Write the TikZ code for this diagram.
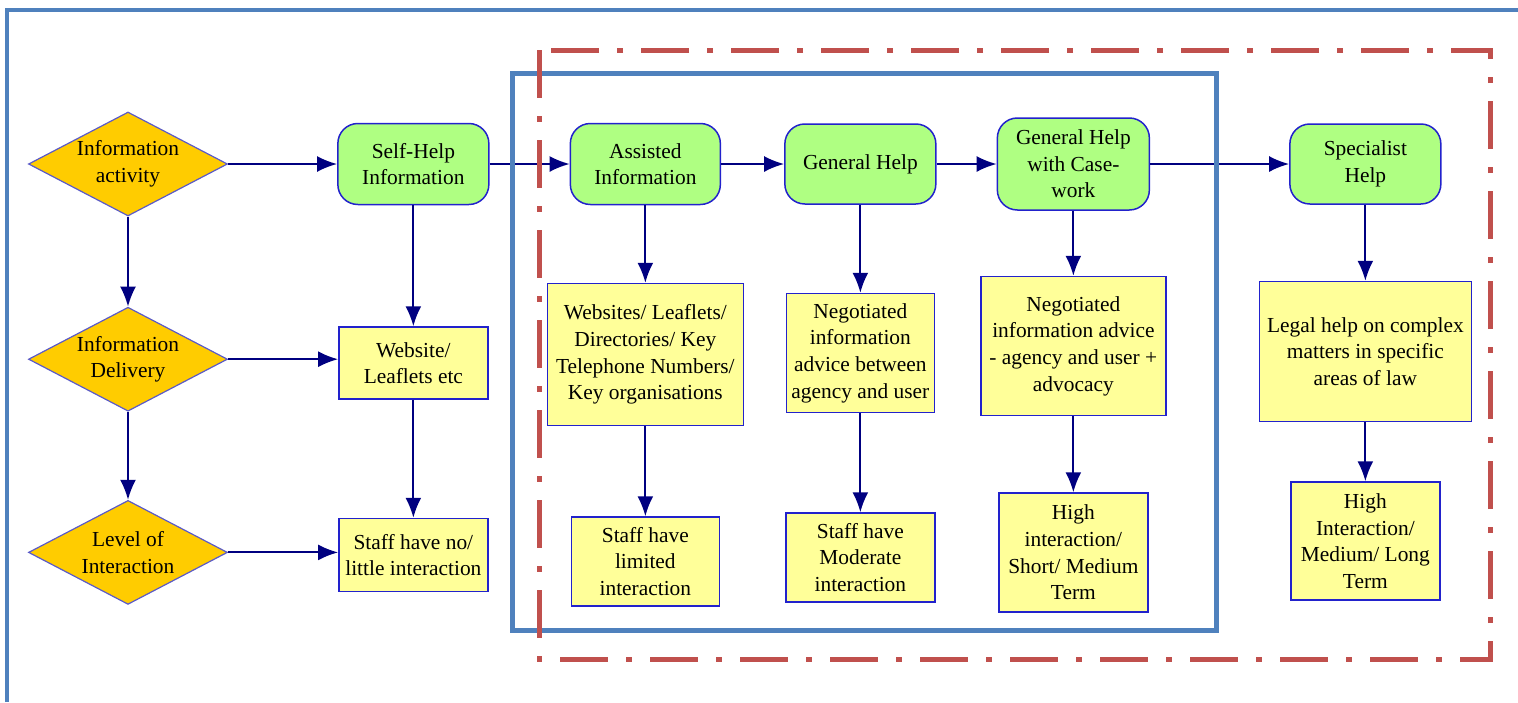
\documentclass[tikz,border=0pt]{standalone}
\usepackage{fontspec}
\setmainfont{Liberation Serif}
\usetikzlibrary{shapes.geometric,arrows.meta,positioning}

\definecolor{frameblue}{RGB}{79,129,189}
\definecolor{framered}{RGB}{192,80,77}
\definecolor{boxline}{RGB}{34,34,204}
\definecolor{diamline}{RGB}{90,90,200}
\definecolor{diamfill}{RGB}{255,204,0}
\definecolor{stagefill}{RGB}{175,255,130}
\definecolor{outfill}{RGB}{255,255,153}
\definecolor{arrownavy}{RGB}{0,0,128}

\begin{document}
\begin{tikzpicture}[font=\fontsize{10.7}{13.3}\selectfont]
    \tikzstyle{decision} = [draw=diamline, line width=0.6pt, diamond, aspect=2, fill=diamfill, align=center, inner sep=0pt, minimum width=99.5pt, minimum height=52pt]
    \tikzstyle{stage}    = [draw=boxline, line width=0.75pt, rectangle, rounded corners=10pt, fill=stagefill, align=center, inner sep=0pt]
    \tikzstyle{outcome}  = [draw=boxline, line width=0.75pt, rectangle, fill=outfill, align=center, inner sep=0pt]
    \tikzstyle{arrow}    = [draw=arrownavy, line width=1pt, -{Latex[length=10pt,width=8pt]}]

    \useasboundingbox (0,0) rectangle (759pt,-351pt);

    % left column
    \node [decision] (activity) at (64pt,-82pt) {Information\\activity};
    \node [decision, below=45pt of activity] (delivery) {Information\\Delivery};
    \node [decision, below=44pt of delivery] (level) {Level of\\Interaction};

    % top row
    \node [stage, minimum width=75.5pt, minimum height=40.5pt, right=54.5pt of activity] (selfhelp) {Self-Help\\Information};
    \node [stage, minimum width=75pt, minimum height=40.5pt, right=40pt of selfhelp] (assisted) {Assisted\\Information};
    \node [stage, minimum width=75.5pt, minimum height=40pt, right=31.5pt of assisted] (general) {General Help};
    \node [stage, minimum width=76pt, minimum height=46pt, right=30pt of general] (casework) {General Help\\with Case-\\work};
    \node [stage, minimum width=75.5pt, minimum height=40pt, right=69.5pt of casework] (specialist) {Specialist\\Help};

    % what is offered
    \node [outcome, minimum width=74.5pt, minimum height=36pt, below=60.5pt of selfhelp] (website) {Website/\\Leaflets etc};
    \node [outcome, minimum width=98pt, minimum height=71pt, below=38.75pt of assisted] (directories) {Websites/ Leaflets/\\Directories/ Key\\Telephone Numbers/\\Key organisations};
    \node [outcome, minimum width=74pt, minimum height=59.5pt, below=44pt of general] (negotiated) {Negotiated\\information\\advice between\\agency and user};
    \node [outcome, minimum width=92.5pt, minimum height=69.5pt, below=32.5pt of casework] (advocacy) {Negotiated\\information advice\\- agency and user +\\advocacy};
    \node [outcome, minimum width=106pt, minimum height=70pt, below=38pt of specialist] (legal) {Legal help on complex\\matters in specific\\areas of law};

    % level of interaction
    \node [outcome, minimum width=74.5pt, minimum height=36.5pt, below=59pt of website] (nointer) {Staff have no/\\little interaction};
    \node [outcome, minimum width=74pt, minimum height=44.5pt, below=45pt of directories] (limited) {Staff have\\limited\\interaction};
    \node [outcome, minimum width=74.5pt, minimum height=44.5pt, below=49.5pt of negotiated] (moderate) {Staff have\\Moderate\\interaction};
    \node [outcome, minimum width=74.5pt, minimum height=59.5pt, below=38pt of advocacy] (shortmed) {High\\interaction/\\Short/ Medium\\Term};
    \node [outcome, minimum width=74.5pt, minimum height=59pt, below=29.5pt of legal] (medlong) {High\\Interaction/\\Medium/ Long\\Term};

    \draw [arrow] (activity) -- (selfhelp);
    \draw [arrow] (selfhelp) -- (assisted);
    \draw [arrow] (assisted) -- (general);
    \draw [arrow] (general) -- (casework);
    \draw [arrow] (casework) -- (specialist);

    \draw [arrow] (activity) -- (delivery);
    \draw [arrow] (delivery) -- (level);
    \draw [arrow] (delivery) -- (delivery -| website.west);
    \draw [arrow] (level) -- (level -| nointer.west);

    \draw [arrow] (selfhelp) -- (website);
    \draw [arrow] (website) -- (nointer);
    \draw [arrow] (assisted) -- (directories);
    \draw [arrow] (directories) -- (limited);
    \draw [arrow] (general) -- (negotiated);
    \draw [arrow] (negotiated) -- (moderate);
    \draw [arrow] (casework) -- (advocacy);
    \draw [arrow] (advocacy) -- (shortmed);
    \draw [arrow] (specialist) -- (legal);
    \draw [arrow] (legal) -- (medlong);

    % frames
    \draw [frameblue, line width=2pt] (3.5pt,-351pt) |- (759pt,-4.75pt);
    \draw [frameblue, line width=2.5pt] (256pt,-36.5pt) rectangle (608pt,-315pt);
    \draw [framered, line width=2.5pt, dash pattern=on 24pt off 9pt on 3pt off 9pt] (269.5pt,-25pt) rectangle (745pt,-329.5pt);
\end{tikzpicture}
\end{document}
